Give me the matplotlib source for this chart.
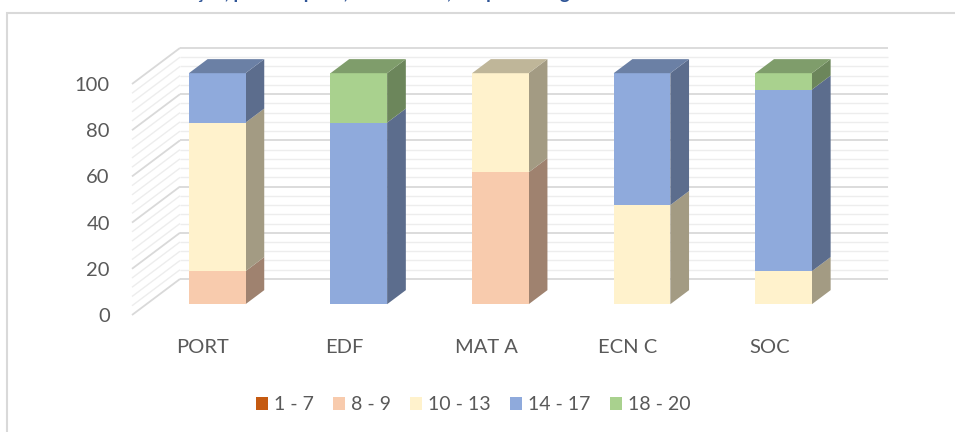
import matplotlib.pyplot as plt
from matplotlib.patches import Patch, Polygon, Rectangle

plt.rcParams['font.family'] = ['Lato', 'DejaVu Sans']

# percentage of students per grade band, by subject
subjects = ['PORT', 'EDF', 'MAT A', 'ECN C', 'SOC']
bands = ['1 - 7', '8 - 9', '10 - 13', '14 - 17', '18 - 20']
band_1_7 = [0.0, 0.0, 0.0, 0.0, 0.0]
band_8_9 = [14.3, 0.0, 57.1, 0.0, 0.0]
band_10_13 = [64.3, 0.0, 42.9, 42.9, 14.3]
band_14_17 = [21.4, 78.6, 0.0, 57.1, 78.6]
band_18_20 = [0.0, 21.4, 0.0, 0.0, 7.1]
y_ticks = [0, 20, 40, 60, 80, 100]

colors = ['#C55A11', '#F8CBAD', '#FFF2CC', '#8FAADC', '#A9D18E']
text_color = '#595959'

# oblique projection: one unit of depth shifts by (DX, DY) in data units
DX, DY = 0.339, 15.6
Z0, Z1 = 0.30, 0.69
BAR_W = 0.40


def shade(hex_color, k):
    r, g, b = (int(hex_color[i:i + 2], 16) for i in (1, 3, 5))
    return (r * k / 255, g * k / 255, b * k / 255)


fig = plt.figure(figsize=(9.55, 4.32), dpi=100)
W, H = 955, 432
ax = fig.add_axes([132 / W, (H - 315) / H, (840 - 132) / W, (315 - 84) / H])
ax.set_xlim(-0.5, 4.5)
ax.set_ylim(0, 100)
for s in ax.spines.values():
    s.set_visible(False)

# back and side wall gridlines
for v in range(0, 101, 4):
    major = v % 20 == 0
    c = '#D9D9D9' if major else '#EDEDED'
    lw = 1.3 if major else 1.0
    ax.plot([-0.5 + DX, 4.5 + DX], [v + DY, v + DY], color=c, lw=lw,
            clip_on=False, zorder=1, solid_capstyle='butt')
    ax.plot([-0.5, -0.5 + DX], [v, v + DY], color=c, lw=lw,
            clip_on=False, zorder=1, solid_capstyle='butt')

# stacked 3D columns
series = [band_1_7, band_8_9, band_10_13, band_14_17, band_18_20]
for i in range(len(subjects)):
    x0 = i + Z0 * DX - BAR_W / 2
    x1 = x0 + BAR_W
    ddx = (Z1 - Z0) * DX
    ddy = (Z1 - Z0) * DY
    base = Z0 * DY
    bottom = 0.0
    top_color = None
    for k, vals in enumerate(series):
        v = vals[i]
        if v <= 0:
            continue
        y0 = base + bottom
        y1 = base + bottom + v
        front = Rectangle((x0, y0), BAR_W, v, facecolor=colors[k],
                          edgecolor='none', clip_on=False, zorder=3)
        side = Polygon([(x1, y0), (x1 + ddx, y0 + ddy), (x1 + ddx, y1 + ddy),
                        (x1, y1)], closed=True, facecolor=shade(colors[k], 0.64),
                       edgecolor='none', clip_on=False, zorder=3)
        ax.add_patch(side)
        ax.add_patch(front)
        bottom += v
        top_color = colors[k]
    yt = base + bottom
    top = Polygon([(x0, yt), (x1, yt), (x1 + ddx, yt + ddy), (x0 + ddx, yt + ddy)],
                  closed=True, facecolor=shade(top_color, 0.75), edgecolor='none',
                  clip_on=False, zorder=3)
    ax.add_patch(top)

ax.set_yticks(y_ticks)
ax.set_yticklabels([str(t) for t in y_ticks])
ax.set_xticks(range(len(subjects)))
ax.set_xticklabels(subjects)
ax.tick_params(axis='y', length=0, pad=16, labelsize=14.5, labelcolor=text_color)
ax.tick_params(axis='x', length=0, pad=17, labelsize=14.5, labelcolor=text_color)

handles = [Patch(facecolor=c, edgecolor='none') for c in colors]
fig.legend(handles, bands, loc='center', bbox_to_anchor=(473 / W, (H - 405) / H),
           ncol=5, frameon=False, handlelength=0.62, handleheight=0.62,
           handletextpad=0.3, columnspacing=1.0, fontsize=14,
           labelcolor=text_color)

# chart frame, cut off at the right and bottom
fig.add_artist(Rectangle((7 / W, -0.1), 1.2, (H - 12.5) / H + 0.1,
                         transform=fig.transFigure, facecolor='none',
                         edgecolor='#D9D9D9', lw=1.5))

# heading sits above the frame, mostly outside the saved area
fig.text(10 / W, (H + 0.5) / H,
         'Gráfico 11 – Classificação, por disciplina, do 11.º ano, em percentagem',
         color='#2F5597', fontsize=13.5, fontweight='bold', va='baseline')

fig.savefig('out.png', dpi=100)
